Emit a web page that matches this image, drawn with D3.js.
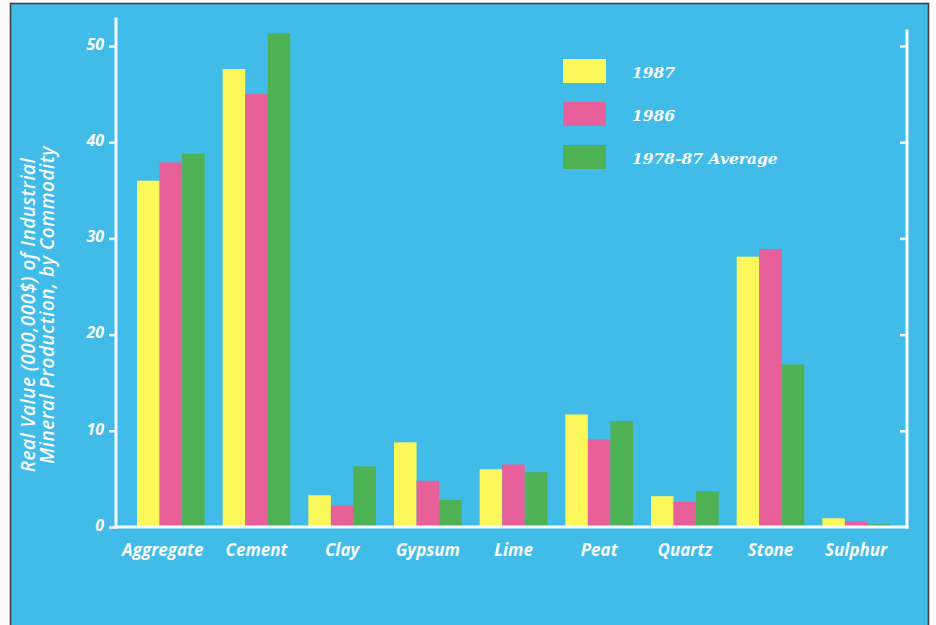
<!DOCTYPE html>
<html>
<head>
<meta charset="utf-8">
<script src="https://cdn.jsdelivr.net/npm/d3@7"></script>
<style>
  html, body { margin: 0; padding: 0; background: #fbfbfb; }
  svg { display: block; }
  .sans { font-family: "Open Sans", Lato, sans-serif; font-style: italic; font-weight: 700; fill: #f7fbfd; }
  .title { font-family: "Open Sans", Lato, sans-serif; font-style: italic; font-weight: 600; fill: #f7fbfd; letter-spacing: 0.5px; }
  .serif { font-family: "DejaVu Serif", "Liberation Serif", serif; font-style: italic; font-weight: 700; fill: #f7fbfd; }
</style>
</head>
<body>
<svg id="chart" width="936" height="625"></svg>
<script>
// Industrial mineral production by commodity, millions of dollars (real value)
const categories = ["Aggregate", "Cement", "Clay", "Gypsum", "Lime", "Peat", "Quartz", "Stone", "Sulphur"];
const seriesNames = ["1987", "1986", "1978-87 Average"];
const values1987 = [36.0, 47.6, 3.3, 8.8, 6.0, 11.7, 3.2, 28.1, 0.9];
const values1986 = [37.9, 45.0, 2.2, 4.8, 6.5, 9.1, 2.6, 28.9, 0.6];
const valuesAvg  = [38.8, 51.3, 6.3, 2.8, 5.7, 11.0, 3.7, 16.9, 0.3];
const yTicks = [0, 10, 20, 30, 40, 50];
const titleLines = ["Real Value (000,000$) of Industrial", "Mineral Production, by Commodity"];

const seriesValues = [values1987, values1986, valuesAvg];
const colors = ["#fcf85c", "#e8609a", "#4eb254"];
const panelBlue = "#41bbe8";
const ink = "#f7fbfd";

const svg = d3.select("#chart");

// blue panel with a thin dark edge
svg.append("rect")
  .attr("x", 10.5).attr("y", 3.5)
  .attr("width", 918).attr("height", 640)
  .attr("fill", panelBlue)
  .attr("stroke", "#3c4448").attr("stroke-width", 1.6);

const axisLeftX = 116, axisRightX = 907, baseY = 527;

const y = d3.scaleLinear().domain([0, 50]).range([baseY, 46]);
const x0 = d3.scaleBand().domain(categories).range([137, 890]).paddingInner(0.21);
const x1 = d3.scaleBand().domain(seriesNames).range([0, x0.bandwidth()]);
const color = d3.scaleOrdinal().domain(seriesNames).range(colors);

// bars
const groups = svg.append("g").selectAll("g")
  .data(categories)
  .join("g")
  .attr("transform", d => `translate(${x0(d)},0)`);

groups.selectAll("rect")
  .data((d, i) => seriesNames.map((s, k) => ({ key: s, value: seriesValues[k][i] })))
  .join("rect")
  .attr("x", d => x1(d.key))
  .attr("width", x1.bandwidth())
  .attr("y", d => y(d.value))
  .attr("height", d => y(0) - y(d.value))
  .attr("fill", d => color(d.key));

// axis frame lines
const frame = svg.append("g").attr("stroke", ink).attr("stroke-width", 3).attr("stroke-linecap", "square");
frame.append("line").attr("x1", axisLeftX).attr("x2", axisLeftX).attr("y1", 19).attr("y2", baseY);
frame.append("line").attr("x1", axisRightX).attr("x2", axisRightX).attr("y1", 31).attr("y2", baseY);
frame.append("line").attr("x1", axisLeftX).attr("x2", axisRightX).attr("y1", baseY).attr("y2", baseY);

// left ticks and labels
const leftAxis = svg.append("g")
  .attr("transform", `translate(${axisLeftX},0)`)
  .call(d3.axisLeft(y).tickValues(yTicks).tickSize(7).tickPadding(5));
leftAxis.select(".domain").remove();
leftAxis.selectAll("line").attr("stroke", ink).attr("stroke-width", 2.5);
leftAxis.selectAll("text")
  .attr("class", "sans")
  .attr("font-size", 16)
  .attr("dy", "0.2em");

// right inward ticks
const rightAxis = svg.append("g")
  .attr("transform", `translate(${axisRightX},0)`)
  .call(d3.axisLeft(y).tickValues(yTicks.filter(v => v > 0)).tickSize(7).tickFormat(""));
rightAxis.select(".domain").remove();
rightAxis.selectAll("line").attr("stroke", ink).attr("stroke-width", 2.5);

// category labels
svg.append("g").selectAll("text")
  .data(categories)
  .join("text")
  .attr("class", "sans")
  .attr("font-size", 17)
  .attr("text-anchor", "middle")
  .attr("x", d => x0(d) + x0.bandwidth() / 2 - (d === "Aggregate" ? 8 : 0))
  .attr("y", 556)
  .text(d => d);

// vertical axis title
const titleCentres = [[35, 315], [54, 305]];
svg.append("g").selectAll("text")
  .data(titleLines)
  .join("text")
  .attr("class", "title")
  .attr("font-size", 19)
  .attr("text-anchor", "middle")
  .attr("transform", (d, i) => `translate(${titleCentres[i][0]},${titleCentres[i][1]}) rotate(-90)`)
  .text(d => d);

// legend
const legend = svg.append("g").selectAll("g")
  .data(seriesNames)
  .join("g")
  .attr("transform", (d, i) => `translate(563,${59 + i * 43})`);
legend.append("rect")
  .attr("width", 43).attr("height", 24)
  .attr("fill", d => color(d));
legend.append("text")
  .attr("class", "serif")
  .attr("font-size", 15.5)
  .attr("x", 69).attr("y", 19)
  .text(d => d);
</script>
</body>
</html>
